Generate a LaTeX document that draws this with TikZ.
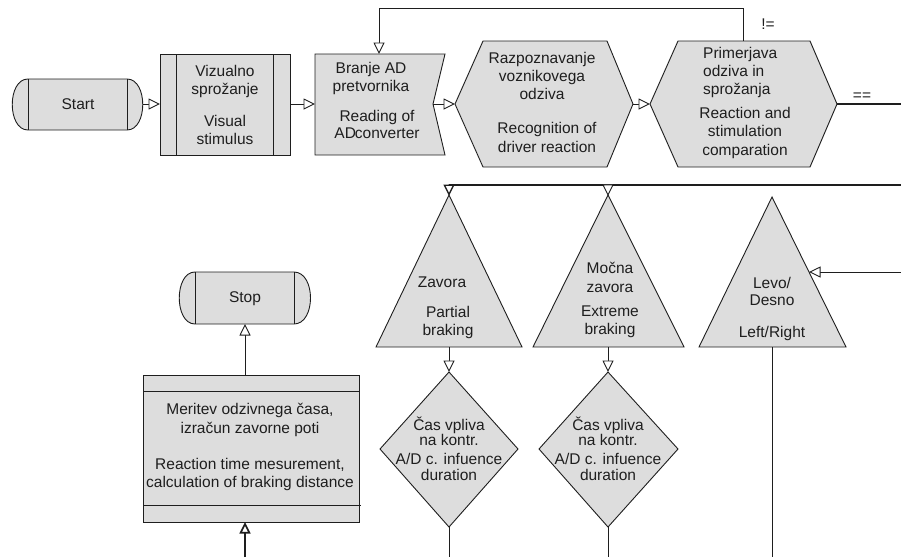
\documentclass[tikz,border=0pt]{standalone}
\usepackage{fontspec}
\setmainfont{Liberation Sans}
\usetikzlibrary{arrows.meta}
\definecolor{shapefill}{HTML}{DDDDDD}
\definecolor{ink}{HTML}{1E1E1E}
\begin{document}
\begin{tikzpicture}[x=1pt,y=-1pt,
  shp/.style={draw=ink, fill=shapefill, line width=0.9pt},
  ln/.style={draw=ink, line width=0.9pt},
  arr/.style={ln, -{Triangle[length=11.5pt,width=11pt,fill=white]}},
  heavy/.style={line width=1.7pt},
  txt/.style={font=\fontsize{15.5}{17.5}\selectfont, align=center, inner sep=0pt, text=ink},
]
\useasboundingbox (0,0) rectangle (901,557);

% ---------- shapes ----------
% Start terminal
\draw[shp] (28,79) -- (127,79) .. controls (148,79) and (148,130) .. (127,130)
  -- (28,130) .. controls (7,130) and (7,79) .. (28,79) -- cycle;
\draw[ln] (28,79) -- (28,130) (127,79) -- (127,130);
\coordinate (startE) at (143,104);
\node[txt] (start) at (78,104.5) {Start};

% Visual stimulus (predefined process)
\draw[shp] (160,54) rectangle (290,155);
\draw[ln] (176,54) -- (176,155) (273,54) -- (273,155);
\coordinate (visW) at (160,104);
\coordinate (visE) at (290,104);
\node[txt] (vis) at (225,105) {Vizualno\\sprožanje\\[15pt]Visual\\stimulus};

% Reading of AD converter
\draw[shp] (315,54) -- (445,54) -- (433,104) -- (445,155) -- (315,155) -- cycle;
\coordinate (adW) at (315,104);
\coordinate (adE) at (433,104);
\coordinate (adN) at (379,54);
\node[txt] (ad1) at (371,78.5) {Branje AD\\pretvornika};
\node[txt] (ad2) at (377,124.5) {Reading of\\AD\kern-1ptconverter};

% Hexagon 1
\draw[shp] (455,104) -- (483,41) -- (607,41) -- (633,104) -- (607,167) -- (483,167) -- cycle;
\coordinate (h1W) at (455,104);
\coordinate (h1E) at (633,104);
\node[txt, font=\fontsize{15.5}{18}\selectfont] (h1a) at (542,76) {Razpoznavanje\\voznikovega\\odziva};
\node[txt, font=\fontsize{15.5}{18.5}\selectfont] (h1b) at (547,137.5) {Recognition of\\driver reaction};

% Hexagon 2
\draw[shp] (650,104) -- (678,41) -- (810,41) -- (837,104) -- (810,167) -- (678,167) -- cycle;
\coordinate (h2W) at (650,104);
\coordinate (h2E) at (837,104);
\coordinate (h2N) at (743,41);
\node[txt, align=left, anchor=west, font=\fontsize{15.5}{18}\selectfont] (h2a) at (703,72.5) {Primerjava\\odziva in\\sprožanja};
\node[txt, font=\fontsize{15.5}{18.5}\selectfont] (h2b) at (745,132.5) {Reaction and\\stimulation\\comparation};

% Triangles
\draw[shp] (449,195) -- (522,347) -- (376,347) -- cycle;
\draw[shp] (608,195) -- (684,347) -- (533,347) -- cycle;
\draw[shp] (772,197) -- (846,347) -- (699,347) -- cycle;
\coordinate (t1N) at (449,196);
\coordinate (t1S) at (449,347);
\coordinate (t2N) at (608,196);
\coordinate (t2S) at (608,347);
\coordinate (t3E) at (809,272);
\coordinate (t3S) at (772,347);
\node[txt] (t1a) at (442,282) {Zavora};
\node[txt, font=\fontsize{15.5}{18.5}\selectfont] (t1b) at (448,322.5) {Partial\\braking};
\node[txt, font=\fontsize{15.5}{18.5}\selectfont] (t2a) at (610,277.5) {Močna\\zavora};
\node[txt, font=\fontsize{15.5}{18}\selectfont] (t2b) at (610,322) {Extreme\\braking};
\node[txt, font=\fontsize{15.5}{17}\selectfont] (t3a) at (772,291.5) {Levo/\\Desno};
\node[txt] (t3b) at (772,333) {Left/Right};

% Diamonds
\draw[shp] (449,372) -- (518,449) -- (449,527) -- (380,449) -- cycle;
\draw[shp] (608,372) -- (678,449) -- (608,527) -- (539,449) -- cycle;
\coordinate (d1N) at (449,372);
\coordinate (d1S) at (449,527);
\coordinate (d2N) at (608,372);
\coordinate (d2S) at (608,527);
\node[txt, font=\fontsize{15.5}{15}\selectfont] (d1a) at (449,431) {Čas vpliva\\na kontr.};
\node[txt, font=\fontsize{15.5}{16}\selectfont] (d1b) at (449,467) {A/D c. infuence\\duration};
\node[txt, font=\fontsize{15.5}{15}\selectfont] (d2a) at (608,431) {Čas vpliva\\na kontr.};
\node[txt, font=\fontsize{15.5}{16}\selectfont] (d2b) at (608,467) {A/D c. infuence\\duration};

% Stop terminal
\draw[shp] (195,272) -- (294,272) .. controls (316,272) and (316,324) .. (294,324)
  -- (195,324) .. controls (174,324) and (174,272) .. (195,272) -- cycle;
\draw[ln] (195,272) -- (195,324) (294,272) -- (294,324);
\coordinate (stopS) at (245,324);
\node[txt] (stop) at (245,298.5) {Stop};

% Measurement box
\draw[shp] (143,375) rectangle (359,522);
\draw[ln] (143,391) -- (359,391) (143,505) -- (361,505);
\coordinate (boxN) at (245,375);
\coordinate (boxS) at (245,522);
\node[txt, font=\fontsize{15.5}{19}\selectfont] (m1) at (250,419.5) {Meritev odzivnega časa,\\izračun zavorne poti};
\node[txt, font=\fontsize{15.5}{18}\selectfont] (m2) at (250,474) {Reaction time mesurement,\\calculation of braking distance};

% ---------- free ends ----------
\coordinate (fbY) at (0,8);
\coordinate (eqR) at (901,104);
\coordinate (busR) at (901,185);
\coordinate (lrR) at (901,272);
\coordinate (d1B) at (449,557);
\coordinate (d2B) at (608,557);
\coordinate (t3B) at (772,557);
\coordinate (boxB) at (245,557);

% ---------- connectors ----------
\draw[arr] (startE) -- (visW);
\draw[arr] (visE) -- (adW);
\draw[arr] (adE) -- (h1W);
\draw[arr] (h1E) -- (h2W);
\draw[ln, heavy] (h2E) -- (eqR);
\node[txt] (eq) at (862,97) {==};
\draw[arr] (h2N) -- (h2N |- fbY) -| (adN);
\node[txt] (neq) at (768,24) {!=};
\draw[arr, line width=1.4pt] (busR) -| (t1N);
\draw[arr] (t2N |- busR) -- (t2N);
\draw[arr] (lrR) -- (t3E);
\draw[arr] (t1S) -- (d1N);
\draw[arr] (t2S) -- (d2N);
\draw[ln] (d1S) -- (d1B);
\draw[ln] (d2S) -- (d2B);
\draw[ln] (t3S) -- (t3B);
\draw[arr, heavy] (boxB) -- (boxS);
\draw[arr] (boxN) -- (stopS);
\end{tikzpicture}
\end{document}
